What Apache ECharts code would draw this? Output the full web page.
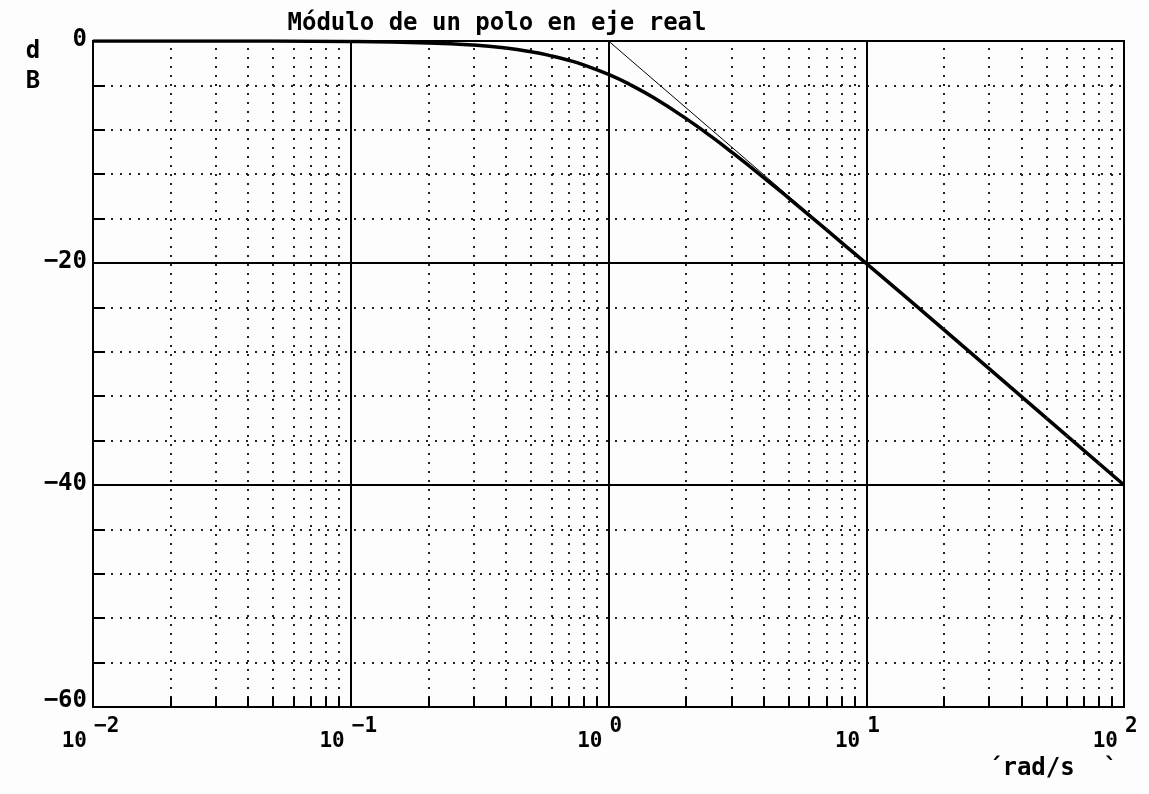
<!DOCTYPE html>
<html>
<head>
<meta charset="utf-8">
<script src="https://cdn.jsdelivr.net/npm/echarts@6/dist/echarts.min.js"></script>
<style>
  html, body { margin: 0; padding: 0; background: #fdfdfd; }
  #main { width: 1149px; height: 794px; }
</style>
</head>
<body>
<div id="main"></div>
<script>
  // frecuencia (rad/s) y modulo (dB)
  const freq = [0.01, 0.05, 0.1, 0.2, 0.3, 0.4, 0.5, 0.6, 0.7, 0.8, 1, 1.2, 1.5, 2, 2.5, 3, 4, 5, 7, 10, 20, 50, 100];
  const modDb = [0, -0.01, -0.04, -0.17, -0.37, -0.64, -0.97, -1.34, -1.73, -2.15, -3.01, -3.87, -5.12, -6.99, -8.6, -10.0, -12.3, -14.15, -17.0, -20.04, -26.0, -33.98, -40.0];
  // asintotas
  const asymFreq = [0.01, 1, 100];
  const asymDb = [0, 0, -40];
  // rejilla secundaria (2..9 por decada)
  const minorFreq = [0.02, 0.03, 0.04, 0.05, 0.06, 0.07, 0.08, 0.09,
    0.2, 0.3, 0.4, 0.5, 0.6, 0.7, 0.8, 0.9,
    2, 3, 4, 5, 6, 7, 8, 9,
    20, 30, 40, 50, 60, 70, 80, 90];

  const FONT = '"DejaVu Sans Mono", monospace';
  const dotted = { type: [2, 7], width: 2, color: '#222' };
  const TICK_DB = 0.9; // largo de las marcas interiores del eje x (~10px)

  let myChart = echarts.init(document.getElementById('main'));

  let logAxis = {
    type: 'log', logBase: 10, min: 0.01, max: 100, splitNumber: 4,
    position: 'bottom', offset: 0,
    axisLine: { show: false },
    axisTick: { show: false }
  };

  let option = {
    animation: false,
    backgroundColor: '#fdfdfd',
    grid: {
      left: 93, top: 41, width: 1031, height: 666,
      containLabel: false, outerBoundsMode: 'none',
      show: true, borderColor: '#000', borderWidth: 2, backgroundColor: 'transparent'
    },
    graphic: [
      { type: 'text', z: 10, style: { text: 'Módulo de un polo en eje real', x: 497, y: 24, textAlign: 'center', textVerticalAlign: 'middle', font: 'bold 24px ' + FONT, fill: '#000' } },
      { type: 'text', z: 10, style: { text: 'd', x: 33, y: 52, textAlign: 'center', textVerticalAlign: 'middle', font: 'bold 24px ' + FONT, fill: '#000' } },
      { type: 'text', z: 10, style: { text: 'B', x: 33, y: 82, textAlign: 'center', textVerticalAlign: 'middle', font: 'bold 24px ' + FONT, fill: '#000' } },
      { type: 'text', z: 10, style: { text: '´rad/s  `', x: 988, y: 769, textAlign: 'left', textVerticalAlign: 'middle', font: 'bold 24px ' + FONT, fill: '#000' } }
    ],
    xAxis: [
      Object.assign({}, logAxis, {
        splitLine: { show: true, lineStyle: { color: '#000', width: 2 } },
        axisLabel: {
          margin: 24, align: 'right', padding: [0, 6, 0, 0],
          color: '#000', fontFamily: FONT, fontWeight: 'bold', fontSize: 21,
          formatter: function () { return '10'; }
        }
      }),
      Object.assign({}, logAxis, {
        splitLine: { show: false },
        axisLabel: {
          margin: 9, align: 'left', padding: [0, 0, 0, 1],
          color: '#000', fontFamily: FONT, fontWeight: 'bold', fontSize: 21,
          formatter: function (value) {
            return String(Math.round(Math.log10(value))).replace('-', '−');
          }
        }
      })
    ],
    yAxis: {
      type: 'value', min: -60, max: 0, interval: 20,
      axisLine: { show: false },
      axisTick: { show: true, inside: true, length: 12, lineStyle: { color: '#000', width: 2 } },
      minorTick: { show: true, splitNumber: 5, length: 12, lineStyle: { color: '#000', width: 2 } },
      splitLine: { show: true, lineStyle: { color: '#000', width: 2 } },
      minorSplitLine: { show: true, lineStyle: dotted },
      axisLabel: {
        margin: 6, color: '#000', fontFamily: FONT, fontWeight: 'bold', fontSize: 24,
        padding: [0, 0, 2, 0],
        formatter: function (v) {
          let t = String(v).replace('-', '−');
          return v === -60 ? '{lo|' + t + '}' : t;
        },
        rich: {
          lo: { fontFamily: FONT, fontWeight: 'bold', fontSize: 24, color: '#000', padding: [0, 0, 10, 0] }
        }
      }
    },
    series: [
      {
        type: 'line', name: 'rejilla', xAxisIndex: 0,
        data: [],
        markLine: {
          silent: true, symbol: ['none', 'none'],
          label: { show: false },
          lineStyle: dotted,
          data: minorFreq.map(v => ({ xAxis: v })).concat(
            minorFreq.map(v => [
              { coord: [v, -60], lineStyle: { type: 'solid', width: 2, color: '#000' } },
              { coord: [v, -60 + TICK_DB] }
            ]))
        }
      },
      {
        type: 'line', name: 'asintota', xAxisIndex: 0,
        data: asymFreq.map((f, i) => [f, asymDb[i]]),
        showSymbol: false, symbol: 'none',
        lineStyle: { color: '#000', width: 1 },
        z: 3
      },
      {
        type: 'line', name: 'modulo', xAxisIndex: 0,
        data: freq.map((f, i) => [f, modDb[i]]),
        showSymbol: false, symbol: 'none', smooth: true,
        lineStyle: { color: '#000', width: 3.5 },
        z: 4
      }
    ]
  };

  myChart.setOption(option, true);
</script>
</body>
</html>
